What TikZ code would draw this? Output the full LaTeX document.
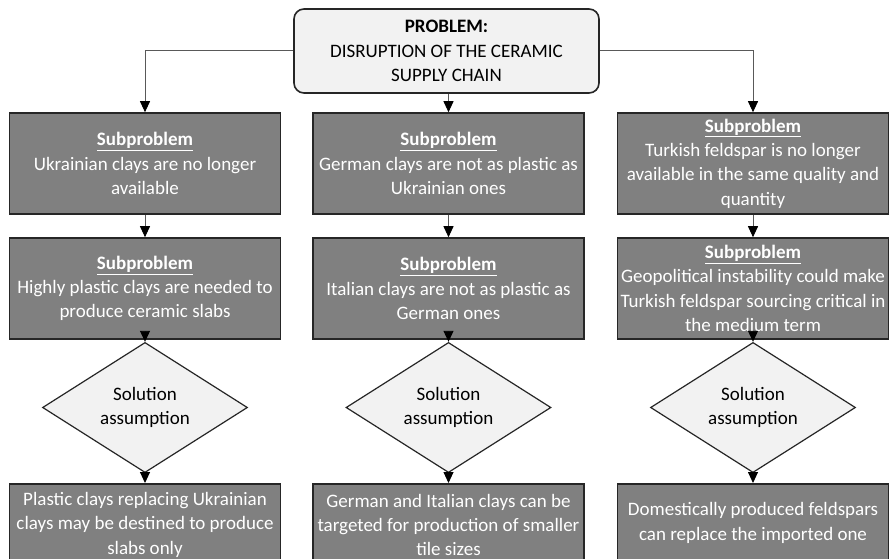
\documentclass[tikz,border=0pt]{standalone}
\usepackage{fontspec}
\setmainfont{Carlito}
\usetikzlibrary{arrows.meta,shapes.geometric}
\definecolor{boxfill}{HTML}{808080}
\definecolor{boxline}{HTML}{262626}
\definecolor{paper}{HTML}{F2F2F2}
\definecolor{wire}{HTML}{595959}
\tikzset{
  txt/.style={font=\fontsize{19}{24.3}\selectfont, align=center},
  problem/.style={txt, draw=boxline, line width=1.6pt, fill=paper, rounded corners=10pt,
    minimum width=305pt, minimum height=84pt, inner sep=0pt},
  subbox/.style={txt, draw=boxline, line width=1.6pt, fill=boxfill, text=white,
    minimum width=271pt, minimum height=101pt, inner sep=0pt},
  solbox/.style={subbox, anchor=north},
  choice/.style={txt, diamond, draw=boxline, line width=1.2pt, fill=paper,
    minimum width=205pt, minimum height=101pt, inner sep=0pt},
  link/.style={draw=wire, line width=0.9pt,
    -{Triangle[width=10pt,length=11pt,color=black,fill=black]}},
}
\newcommand{\subhead}{\underline{\textbf{Subproblem}}}
\begin{document}
\begin{tikzpicture}[x=1pt,y=-1pt]
\useasboundingbox (0,0) rectangle (889,559);
\fill[white] (0,0) rectangle (889,559);
\clip (0,0) rectangle (889,559);

% root problem
\node[problem] (root) at (446.5,51) {\textbf{PROBLEM:}\\DISRUPTION OF THE CERAMIC\\SUPPLY CHAIN};

% first row of subproblems
\node[subbox] (a1) at (145,163.5) {\subhead\\Ukrainian clays are no longer\\available};
\node[subbox] (b1) at (448.5,163.5) {\subhead\\German clays are not as plastic as\\Ukrainian ones};
\node[subbox] (c1) at (753,163.5) {\subhead\\Turkish feldspar is no longer\\available in the same quality and\\quantity};

% second row of subproblems
\node[subbox] (a2) at (145,288.5) {\subhead\\Highly plastic clays are needed to\\produce ceramic slabs};
\node[subbox] (b2) at (448.5,288.5) {\subhead\\Italian clays are not as plastic as\\German ones};
\node[subbox] (c2) at (753,288.5) {\subhead\\Geopolitical instability could make\\Turkish feldspar sourcing critical in\\the medium term};

% decision diamonds
\node[choice] (a3) at (145,407.5) {Solution\\assumption};
\node[choice] (b3) at (448.5,407.5) {Solution\\assumption};
\node[choice] (c3) at (753,407.5) {Solution\\assumption};

% resulting solutions
\node[solbox, minimum height=82pt] (a4) at (145,483) {Plastic clays replacing Ukrainian\\clays may be destined to produce\\slabs only};
\node[solbox, minimum height=82pt] (b4) at (448.5,483) {German and Italian clays can be\\targeted for production of smaller\\tile sizes};
\node[solbox, minimum height=78pt] (c4) at (753,483) {Domestically produced feldspars\\can replace the imported one};

% connectors
\draw[link] (root.west |- 0,50) -| (a1.north);
\draw[link] (root.east |- 0,50) -| (c1.north);
\draw[link] (root.south -| b1.north) -- (b1.north);
\foreach \c in {a,b,c}{
  \draw[link] (\c1) -- (\c2);
  \draw[link] (\c2) -- (\c3);
  \draw[link] (\c3) -- (\c4);
}
\end{tikzpicture}
\end{document}
